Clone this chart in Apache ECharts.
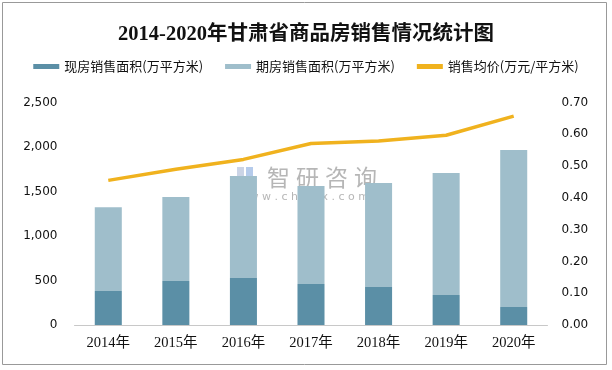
<!DOCTYPE html>
<html><head><meta charset="utf-8">
<script src="https://cdn.jsdelivr.net/npm/echarts@6/dist/echarts.min.js"></script>
<style>html,body{margin:0;padding:0;background:#fff}#c{width:612px;height:370px}</style>
</head><body><div id="c"></div>
<script>
const categories = ['2014年','2015年','2016年','2017年','2018年','2019年','2020年'];
const existingArea = [382, 494, 528, 461, 427, 337, 202];
const futureArea = [940, 944, 1146, 1101, 1169, 1371, 1764];
const avgPrice = [0.455, 0.49, 0.521, 0.571, 0.579, 0.597, 0.657];
const seriesNames = ['现房销售面积(万平方米)', '期房销售面积(万平方米)', '销售均价(万元/平方米)'];
const titleText = '2014-2020年甘肃省商品房销售情况统计图';

const wmColor = 'rgba(110,110,110,0.5)';
const chart = echarts.init(document.getElementById('c'));
chart.setOption({
  animation: false,
  title: {
    text: titleText, left: 'center', top: 19,
    textStyle: {fontFamily: 'Liberation Serif, Noto Sans CJK SC', fontSize: 20.5, fontWeight: 'bold', color: '#111'}
  },
  legend: {
    top: 55, left: 'center', itemGap: 22, itemWidth: 26, itemHeight: 5,
    textStyle: {fontFamily: 'Noto Sans CJK SC', fontSize: 13, color: '#111'},
    data: [
      {name: seriesNames[0], icon: 'rect'},
      {name: seriesNames[1], icon: 'rect'},
      {name: seriesNames[2], icon: 'rect'}
    ]
  },
  grid: {left: 74.5, right: 64.5, top: 102.5, bottom: 45},
  xAxis: {
    type: 'category', data: categories,
    axisLine: {lineStyle: {color: '#c8c8c8', width: 1}},
    axisTick: {show: false},
    axisLabel: {color: '#111', fontFamily: 'Liberation Serif, Noto Sans CJK SC', fontSize: 14.5, margin: 11}
  },
  yAxis: [
    {type: 'value', min: 0, max: 2500, interval: 500,
     splitLine: {show: false}, axisLine: {show: false}, axisTick: {show: false},
     axisLabel: {color: '#111', fontFamily: 'DejaVu Sans', fontSize: 12, margin: 17,
       formatter: v => v.toLocaleString('en-US')}},
    {type: 'value', min: 0, max: 0.7, interval: 0.1,
     splitLine: {show: false}, axisLine: {show: false}, axisTick: {show: false},
     axisLabel: {color: '#111', fontFamily: 'DejaVu Sans', fontSize: 12, margin: 14,
       formatter: v => v.toFixed(2)}}
  ],
  series: [
    {name: seriesNames[0], type: 'bar', stack: 'a', data: existingArea, barWidth: '40%',
     itemStyle: {color: '#5b8fa6'}},
    {name: seriesNames[1], type: 'bar', stack: 'a', data: futureArea, barWidth: '40%',
     itemStyle: {color: '#9fbecb'}},
    {name: seriesNames[2], type: 'line', yAxisIndex: 1, data: avgPrice, symbol: 'none',
     lineStyle: {color: '#f0b21e', width: 3.5}, itemStyle: {color: '#f0b21e'}, z: 5}
  ],
  graphic: [
    {type: 'rect', shape: {x: 2.5, y: 2.5, width: 604, height: 362}, style: {fill: 'none', stroke: '#999', lineWidth: 1}, silent: true},
    {type: 'group', left: 237, top: 166, z: 10, silent: true, children: [
      {type: 'rect', shape: {x: 0, y: 1, width: 7, height: 20}, style: {fill: 'rgba(140,160,200,0.45)'}},
      {type: 'rect', shape: {x: 9, y: 1, width: 7, height: 20}, style: {fill: 'rgba(90,140,210,0.45)'}},
      {type: 'text', style: {x: 30, y: 0, text: '智', font: '23px Noto Sans CJK SC', fill: wmColor}},
      {type: 'text', style: {x: 59, y: 0, text: '研', font: '23px Noto Sans CJK SC', fill: wmColor}},
      {type: 'text', style: {x: 88, y: 0, text: '咨', font: '23px Noto Sans CJK SC', fill: wmColor}},
      {type: 'text', style: {x: 117, y: 0, text: '询', font: '23px Noto Sans CJK SC', fill: wmColor}},
      {type: 'text', style: {x: 0, y: 26, text: 'w w w . c h y x x . c o m', font: '11px DejaVu Sans', fill: wmColor}}
    ]}
  ]
});
</script></body></html>
